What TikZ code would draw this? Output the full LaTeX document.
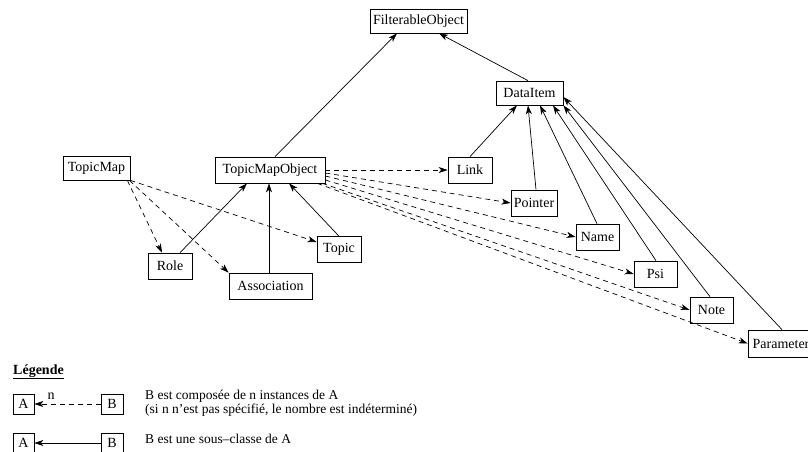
\documentclass[tikz,border=0pt]{standalone}
\usepackage{fontspec}
\setmainfont{Liberation Serif}
\usetikzlibrary{arrows.meta}
\begin{document}
\begin{tikzpicture}[x=1pt,y=-1pt,
  every node/.style={font=\fontsize{14}{16}\selectfont},
  box/.style={draw, line width=0.7pt, inner sep=0pt, minimum height=26pt},
  inherit/.style={line width=0.7pt, -{Stealth[length=9pt,width=6pt,inset=2.5pt]}},
  compose/.style={inherit, dash pattern=on 5pt off 4pt},
  caption/.style={anchor=base west, inner sep=0pt, font=\fontsize{13.5}{15}\selectfont}]
\useasboundingbox (0,0) rectangle (808,451);

% classes
\node[box, minimum width=97pt, minimum height=24pt] (fo) at (418.5,21) {FilterableObject};
\node[box, minimum width=67pt, minimum height=24pt] (di) at (529.5,93) {DataItem};
\node[box, minimum width=44pt] (link) at (470,170) {Link};
\node[box, minimum width=46pt] (pointer) at (534,203) {Pointer};
\node[box, minimum width=43pt] (name) at (597.5,237) {Name};
\node[box, minimum width=43pt] (psi) at (655.5,274) {Psi};
\node[box, minimum width=43pt] (note) at (711.5,310) {Note};
\node[box, minimum width=66pt, minimum height=27pt] (param) at (781,343.5) {Parameter};
\node[box, minimum width=67pt, minimum height=24pt] (tm) at (96.5,168) {TopicMap};
\node[box, minimum width=110pt] (tmo) at (270,170) {TopicMapObject};
\node[box, minimum width=44pt] (topic) at (339,249.5) {Topic};
\node[box, minimum width=44pt] (role) at (170,266) {Role};
\node[box, minimum width=83pt] (assoc) at (270.5,286) {Association};

% inheritance
\draw[inherit] ([xshift=5pt]tmo.north) -- ([xshift=-21.5pt]fo.south);
\draw[inherit] ([xshift=-1.5pt]di.north) -- ([xshift=20.5pt]fo.south);
\draw[inherit] (link.north) -- ([xshift=-12.5pt]di.south);
\draw[inherit] ([xshift=2pt]pointer.north) -- ([xshift=-1.5pt]di.south);
\draw[inherit] ([xshift=-0.5pt]name.north) -- ([xshift=10.5pt]di.south);
\draw[inherit] ([xshift=0.5pt]psi.north) -- ([xshift=23.5pt]di.south);
\draw[inherit] ([xshift=-1.5pt]note.north) -- (di.south east);
\draw[inherit] ([xshift=1pt]param.north) -- ([yshift=-4pt]di.east);
\draw[inherit] ([xshift=10pt]role.north) -- ([xshift=-23pt]tmo.south);
\draw[inherit] ([xshift=-1.5pt]assoc.north) -- ([xshift=-1pt]tmo.south);
\draw[inherit] (topic.north) -- ([xshift=19pt]tmo.south);

% composition
\draw[compose] (tmo.east) -- (link.west);
\draw[compose] ([yshift=-3pt]tmo.east) -- (pointer.west);
\draw[compose] ([yshift=-6pt]tmo.east) -- (name.west);
\draw[compose] ([yshift=-10pt]tmo.east) -- (psi.west);
\draw[compose] ([xshift=-3pt]tmo.south east) -- (note.west);
\draw[compose] ([xshift=-8pt]tmo.south east) -- (param.west);
\draw[compose] ([xshift=-3pt]tm.south east) -- ([xshift=-8pt]role.north);
\draw[compose] ([xshift=-1pt]tm.south east) -- (assoc.north west);
\draw[compose] (tm.south east) -- ([yshift=7.5pt]topic.west);

% legend
\node[anchor=base west, inner sep=0pt] (legend) at (13,374) {\bfseries\underline{Légende}};
\node[box, minimum width=21pt, minimum height=20pt] (la1) at (23.5,404) {A};
\node[box, minimum width=22pt, minimum height=20pt] (lb1) at (112,404) {B};
\draw[compose] (lb1) -- (la1);
\node[inner sep=0pt] (ln) at (51,396.5) {n};
\node[caption] (t1) at (145,399) {B est composée de n instances de A};
\node[caption] (t2) at (145,413) {(si n n’est pas spécifié, le nombre est indéterminé)};
\node[box, minimum width=21pt, minimum height=20pt] (la2) at (23.5,443) {A};
\node[box, minimum width=22pt, minimum height=20pt] (lb2) at (112,443) {B};
\draw[inherit] (lb2) -- (la2);
\node[caption] (t3) at (145,443) {B est une sous–classe de A};
\end{tikzpicture}
\end{document}
